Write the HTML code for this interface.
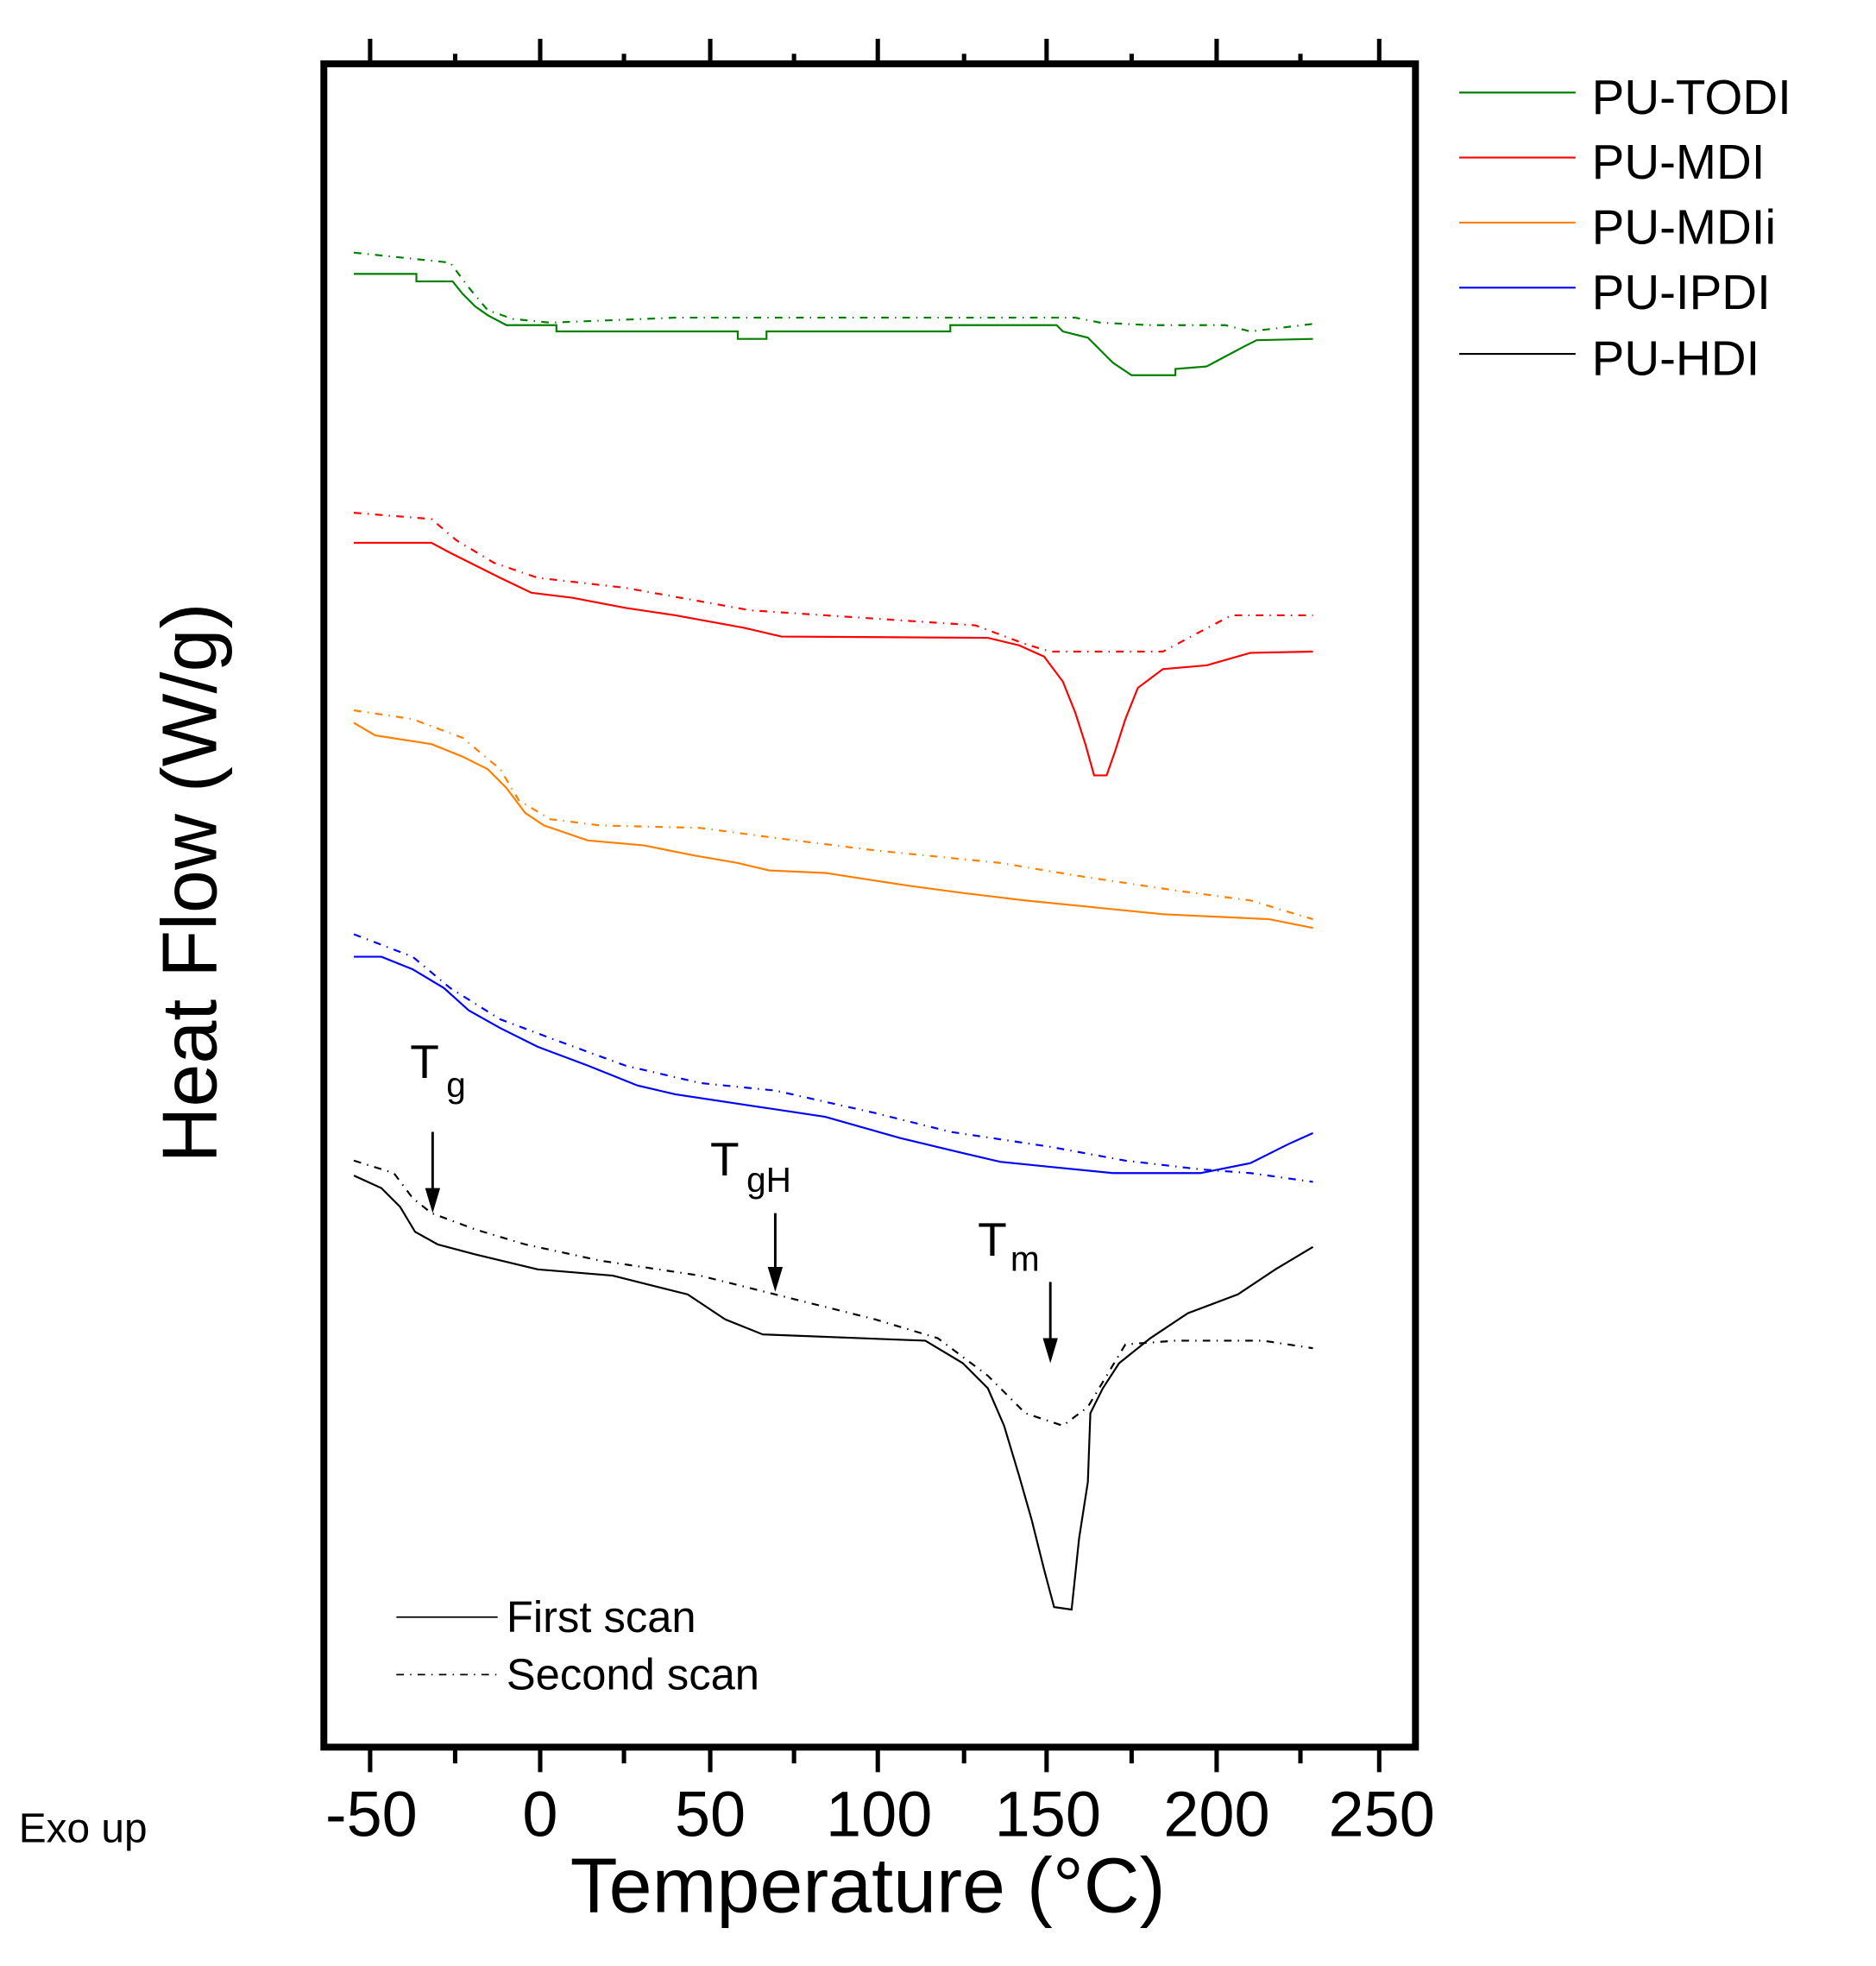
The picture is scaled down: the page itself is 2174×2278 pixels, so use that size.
<!DOCTYPE html>
<html><head><style>html,body{margin:0;padding:0;background:#fff}svg{display:block}</style></head>
<body>
<svg width="2174" height="2278" viewBox="0 0 1500.3 1572" preserveAspectRatio="none" xmlns="http://www.w3.org/2000/svg" font-family="Liberation Sans, Arial, sans-serif">
<rect x="0" y="0" width="1500.3" height="1572" fill="#fff"/>
<rect x="259" y="51" width="873" height="1346" fill="none" stroke="#000" stroke-width="5.5"/>
<g stroke="#000" stroke-width="3.5">
<line x1="296" y1="51" x2="296" y2="31"/><line x1="364" y1="51" x2="364" y2="43"/>
<line x1="432" y1="51" x2="432" y2="31"/><line x1="499" y1="51" x2="499" y2="43"/>
<line x1="568" y1="51" x2="568" y2="31"/><line x1="635" y1="51" x2="635" y2="43"/>
<line x1="702" y1="51" x2="702" y2="31"/><line x1="771" y1="51" x2="771" y2="43"/>
<line x1="837" y1="51" x2="837" y2="31"/><line x1="905" y1="51" x2="905" y2="43"/>
<line x1="973" y1="51" x2="973" y2="31"/><line x1="1040" y1="51" x2="1040" y2="43"/>
<line x1="1103" y1="51" x2="1103" y2="31"/>
<line x1="296" y1="1397" x2="296" y2="1417"/><line x1="364" y1="1397" x2="364" y2="1410"/>
<line x1="432" y1="1397" x2="432" y2="1417"/><line x1="499" y1="1397" x2="499" y2="1410"/>
<line x1="568" y1="1397" x2="568" y2="1417"/><line x1="635" y1="1397" x2="635" y2="1410"/>
<line x1="702" y1="1397" x2="702" y2="1417"/><line x1="771" y1="1397" x2="771" y2="1410"/>
<line x1="837" y1="1397" x2="837" y2="1417"/><line x1="905" y1="1397" x2="905" y2="1410"/>
<line x1="973" y1="1397" x2="973" y2="1417"/><line x1="1040" y1="1397" x2="1040" y2="1410"/>
<line x1="1103" y1="1397" x2="1103" y2="1417"/>
</g>
<g font-size="51" text-anchor="middle" fill="#000">
<text x="297" y="1468">-50</text><text x="432" y="1468">0</text><text x="568" y="1468">50</text>
<text x="703" y="1468">100</text><text x="838" y="1468">150</text><text x="973" y="1468">200</text><text x="1105" y="1468">250</text>
</g>
<text x="694" y="1529" font-size="62" text-anchor="middle">Temperature (°C)</text>
<text transform="translate(173,706) rotate(-90)" font-size="62" text-anchor="middle">Heat Flow (W/g)</text>
<text x="15" y="1473" font-size="33">Exo up</text>
<g font-size="39">
<line x1="1167" y1="74" x2="1260" y2="74" stroke="#008000" stroke-width="1.5"/><text x="1273" y="91">PU-TODI</text>
<line x1="1167" y1="126" x2="1260" y2="126" stroke="#ff0000" stroke-width="1.5"/><text x="1273" y="143">PU-MDI</text>
<line x1="1167" y1="178" x2="1260" y2="178" stroke="#ff8000" stroke-width="1.5"/><text x="1273" y="195">PU-MDIi</text>
<line x1="1167" y1="230" x2="1260" y2="230" stroke="#0000ff" stroke-width="1.5"/><text x="1273" y="247">PU-IPDI</text>
<line x1="1167" y1="283" x2="1260" y2="283" stroke="#000" stroke-width="1.5"/><text x="1273" y="300">PU-HDI</text>
</g>
<g font-size="35">
<line x1="317" y1="1293" x2="398" y2="1293" stroke="#000" stroke-width="1.2"/><text x="405" y="1305">First scan</text>
<line x1="317" y1="1339" x2="398" y2="1339" stroke="#000" stroke-width="1.2" stroke-dasharray="6,5,1,5"/><text x="405" y="1351">Second scan</text>
</g>
<g font-size="38">
<text x="328" y="862">T</text><text x="357" y="877" font-size="28">g</text>
<text x="568" y="940">T</text><text x="597" y="953" font-size="28">gH</text>
<text x="782" y="1004">T</text><text x="808" y="1016" font-size="28">m</text>
</g>
<g stroke="#000" stroke-width="2">
<line x1="346" y1="905" x2="346" y2="955"/><line x1="620" y1="970" x2="620" y2="1018"/><line x1="840" y1="1025" x2="840" y2="1075"/>
</g>
<g fill="#000">
<polygon points="340,950 352,950 346,970"/><polygon points="614,1013 626,1013 620,1033"/><polygon points="834,1070 846,1070 840,1090"/>
</g>
<g fill="none" stroke-width="1.5">
<polyline stroke="#008000" points="283,219 333,219 333,225 362,225 370,235 380,245 390,252 405,260 445,260 445,265 590,265 590,271 613,271 613,265 760,265 760,260 845,260 850,265 870,270 880,280 890,290 905,300 940,300 940,295 965,293 980,285 995,277 1005,272 1050,271"/>
<polyline stroke="#008000" stroke-dasharray="6,5,1,5" points="283,202 360,210 375,230 390,248 410,255 440,258 540,254 860,254 880,258 920,260 980,260 1000,265 1050,259"/>
<polyline stroke="#ff0000" points="283,434 345,434 360,442 380,452 400,462 425,474 458,478 500,486 540,492 595,502 625,509 790,510 815,516 835,525 850,545 860,570 868,595 875,620 885,620 892,600 900,575 910,550 930,535 965,532 1000,522 1050,521"/>
<polyline stroke="#ff0000" stroke-dasharray="6,5,1,5" points="283,410 345,415 365,432 395,450 430,462 500,470 600,488 780,500 820,515 840,521 930,521 960,505 985,492 1050,492"/>
<polyline stroke="#ff8000" points="283,578 300,588 345,595 370,605 390,615 405,630 420,650 435,660 470,672 515,676 555,684 590,690 615,696 660,698 725,708 770,714 820,720 870,725 930,731 1015,735 1050,742"/>
<polyline stroke="#ff8000" stroke-dasharray="6,5,1,5" points="283,568 330,575 370,590 400,615 415,640 440,655 480,660 560,662 620,670 700,680 800,690 860,700 940,712 1000,720 1050,735"/>
<polyline stroke="#0000ff" points="283,765 305,765 330,775 355,790 375,808 400,822 430,837 470,852 510,868 540,875 600,884 660,893 720,910 770,922 800,929 840,933 890,938 960,938 1000,930 1030,915 1050,906"/>
<polyline stroke="#0000ff" stroke-dasharray="6,5,1,5" points="283,747 330,765 360,790 400,815 440,830 500,852 560,866 620,872 700,890 760,905 840,917 900,928 960,935 1000,938 1050,945"/>
<polyline stroke="#000" points="283,940 305,950 320,965 332,985 350,995 380,1003 430,1015 490,1020 550,1035 580,1055 610,1067 740,1072 770,1090 790,1110 803,1140 815,1180 825,1215 835,1255 843,1285 857,1287 863,1230 870,1185 872,1130 882,1110 895,1090 920,1070 950,1050 990,1035 1020,1015 1050,997"/>
<polyline stroke="#000" stroke-dasharray="6,5,1,5" points="283,928 315,938 330,958 345,970 380,983 420,995 480,1008 560,1020 620,1035 700,1055 750,1070 790,1100 820,1130 850,1140 870,1125 885,1100 900,1075 940,1072 1010,1072 1050,1078"/>
</g>
</svg>
</body></html>
